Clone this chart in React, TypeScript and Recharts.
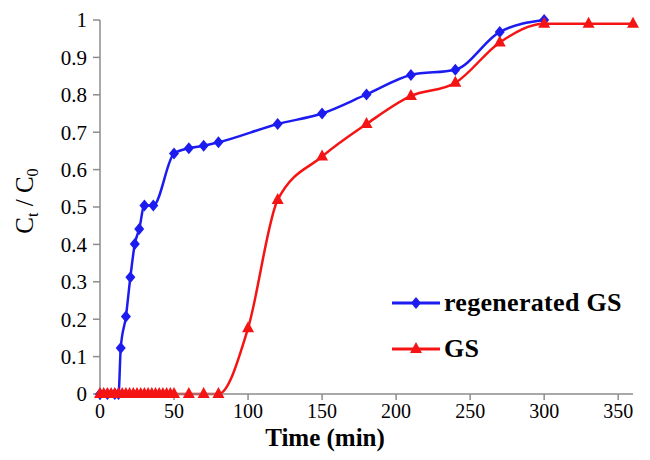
import { LineChart, Line, XAxis, YAxis, Label } from "recharts";

// regenerated GS (blue diamonds)
const regenTime = [0, 5, 10, 12.5, 14, 17.5, 20.5, 23.5, 26.5, 30, 36, 50, 60, 70, 80, 120, 150, 180, 210, 240, 270, 300];
const regenCt = [0, 0, 0, 0, 0.123, 0.207, 0.312, 0.401, 0.441, 0.504, 0.504, 0.643, 0.657, 0.664, 0.673, 0.722, 0.75, 0.801, 0.853, 0.867, 0.968, 1.0];

// GS (red triangles)
const gsTime = [0, 2.5, 5, 7.5, 10, 12.5, 15, 17.5, 20, 22.5, 25, 27.5, 30, 32.5, 35, 37.5, 40, 42.5, 45, 47.5, 50, 60, 70, 80, 100, 120, 150, 180, 210, 240, 270, 300, 330, 360];
const gsCt = [0, 0, 0, 0, 0, 0, 0, 0, 0, 0, 0, 0, 0, 0, 0, 0, 0, 0, 0, 0, 0, 0, 0, 0, 0.176, 0.519, 0.635, 0.722, 0.797, 0.832, 0.94, 0.99, 0.99, 0.99];

const xTicks = [0, 50, 100, 150, 200, 250, 300, 350];
const yTicks = [0, 0.1, 0.2, 0.3, 0.4, 0.5, 0.6, 0.7, 0.8, 0.9, 1];

const regenData = regenTime.map((t, i) => ({ t, v: regenCt[i] }));
const gsData = gsTime.map((t, i) => ({ t, v: gsCt[i] }));

const BLUE = "#1c1cf0";
const RED = "#f51414";
const AXIS = "#8c8c8c";
const FONT = "'Liberation Serif', 'Times New Roman', serif";

function Diamond(props: any) {
  const { cx, cy, index } = props;
  if (cx == null || cy == null) return null;
  return (
    <path
      key={"d" + index}
      d={`M${cx},${cy - 6} L${cx + 5},${cy} L${cx},${cy + 6} L${cx - 5},${cy} Z`}
      fill={BLUE}
    />
  );
}

function Triangle(props: any) {
  const { cx, cy, index } = props;
  if (cx == null || cy == null) return null;
  return (
    <path
      key={"t" + index}
      d={`M${cx},${cy - 7} L${cx + 6},${cy + 4} L${cx - 6},${cy + 4} Z`}
      fill={RED}
    />
  );
}

function YTitle() {
  return (
    <text transform="translate(25,193) rotate(-90)" textAnchor="middle" fontSize={25} fill="#000">
      C<tspan fontSize={16} dy={5}>t</tspan>
      <tspan dy={-5}> / C</tspan>
      <tspan fontSize={16} dy={5}>0</tspan>
    </text>
  );
}

function XTitle() {
  return (
    <text x={317} y={438} textAnchor="middle" fontSize={25} fontWeight="bold" fill="#000">
      Time (min)
    </text>
  );
}

const legendRows = [
  { name: "regenerated GS", color: BLUE, mark: "d" },
  { name: "GS", color: RED, mark: "t" },
];

function LegendBox() {
  return (
    <div style={{ position: "absolute", left: 384, top: 272, width: 260 }}>
      {legendRows.map((r) => (
        <div key={r.name} style={{ display: "flex", alignItems: "center", height: 46 }}>
          <svg width={50} height={20}>
            <line x1={0} y1={10} x2={48} y2={10} stroke={r.color} strokeWidth={3} />
            {r.mark === "d" ? (
              <path d="M24,4 L29,10 L24,16 L19,10 Z" fill={r.color} />
            ) : (
              <path d="M24,3 L30,14 L18,14 Z" fill={r.color} />
            )}
          </svg>
          <span style={{ fontSize: 26, fontWeight: "bold", marginLeft: 2, color: "#000", letterSpacing: 0.3 }}>
            {r.name}
          </span>
        </div>
      ))}
    </div>
  );
}

export default function App() {
  return (
    <div className="gs-chart" style={{ position: "relative", width: 634, height: 444, fontFamily: FONT }}>
      <style>{`.gs-chart, .gs-chart text, .gs-chart tspan, .gs-chart span { font-family: ${FONT} !important; }`}</style>
      <LineChart width={634} height={444} margin={{ top: 12, right: 9, left: 0, bottom: 0 }}>
        <XAxis
          dataKey="t"
          type="number"
          domain={[0, 360]}
          ticks={xTicks}
          interval={0}
          allowDuplicatedCategory={false}
          height={58}
          axisLine={{ stroke: AXIS, strokeWidth: 1.5 }}
          tickLine={{ stroke: AXIS, strokeWidth: 1.5 }}
          tickSize={6}
          tickMargin={4}
          tick={{ fill: "#000", fontSize: 20 }}
        >
          <Label content={XTitle} />
        </XAxis>
        <YAxis
          type="number"
          domain={[0, 1]}
          ticks={yTicks}
          interval={0}
          width={92}
          axisLine={{ stroke: AXIS, strokeWidth: 1.5 }}
          tickLine={{ stroke: AXIS, strokeWidth: 1.5 }}
          tickSize={7}
          tickMargin={6}
          tickFormatter={(v: number) => String(Math.round(v * 10) / 10)}
          tick={{ fill: "#000", fontSize: 21 }}
        >
          <Label content={YTitle} />
        </YAxis>
        <Line
          data={regenData}
          dataKey="v"
          type="monotone"
          stroke={BLUE}
          strokeWidth={2.5}
          dot={Diamond}
          activeDot={false}
          isAnimationActive={false}
          name="regenerated GS"
        />
        <Line
          data={gsData}
          dataKey="v"
          type="monotone"
          stroke={RED}
          strokeWidth={2.5}
          dot={Triangle}
          activeDot={false}
          isAnimationActive={false}
          name="GS"
        />
      </LineChart>
      <LegendBox />
    </div>
  );
}
